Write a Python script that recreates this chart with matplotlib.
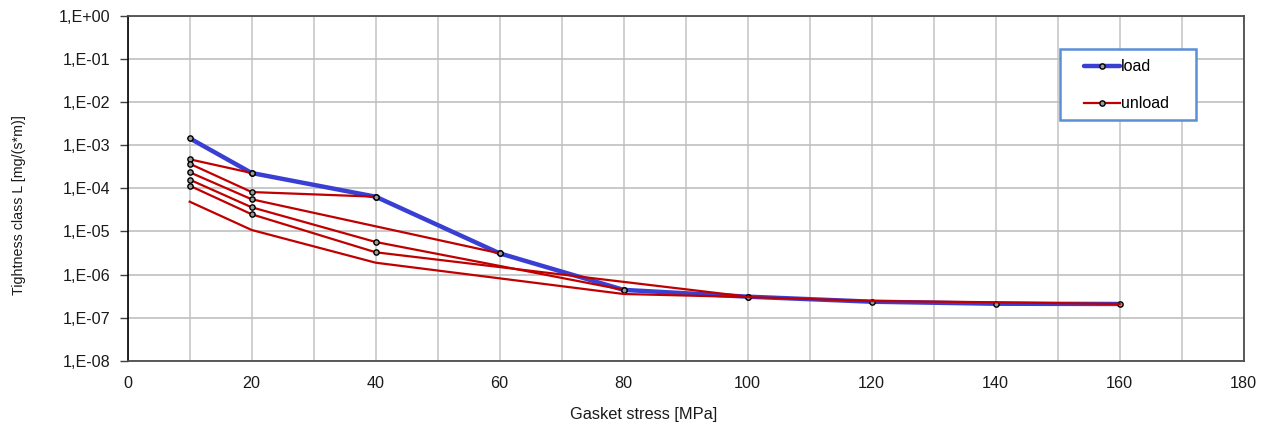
import numpy as np
import matplotlib
matplotlib.use("Agg")
import matplotlib.pyplot as plt
from matplotlib.ticker import FuncFormatter, FixedLocator, MultipleLocator
from matplotlib.patches import Rectangle
from matplotlib.lines import Line2D

plt.rcParams['font.family'] = ['Liberation Sans', 'DejaVu Sans']

# Load curve
load_x = [10, 20, 40, 60, 80, 100, 120, 140, 160]
load_y = [1.45e-3, 2.27e-4, 6.4e-5, 3.1e-6, 4.4e-7, 3.06e-7, 2.34e-7, 2.1e-7, 2.07e-7]

# Unload curves (each starting from a load stress level)
unload20_x = [20, 10]
unload20_y = [2.27e-4, 4.72e-4]
unload40_x = [40, 20, 10]
unload40_y = [6.4e-5, 8.2e-5, 3.73e-4]
unload60_x = [60, 20, 10]
unload60_y = [3.1e-6, 5.57e-5, 2.36e-4]
unload80_x = [80, 40, 20, 10]
unload80_y = [4.4e-7, 5.69e-6, 3.63e-5, 1.59e-4]
unload100_x = [100, 40, 20, 10]
unload100_y = [3.06e-7, 3.28e-6, 2.50e-5, 1.15e-4]
unload160_x = [160, 140, 120, 100, 80, 40, 20, 10]
unload160_y = [2.07e-7, 2.27e-7, 2.43e-7, 3.0e-7, 3.53e-7, 1.88e-6, 1.08e-5, 4.9e-5]

x_ticks = [0, 20, 40, 60, 80, 100, 120, 140, 160, 180]
y_ticks = [1e-8, 1e-7, 1e-6, 1e-5, 1e-4, 1e-3, 1e-2, 1e-1, 1e0]

BLUE = '#3a3fd4'
RED = '#c00000'
FS = 11.6

fig = plt.figure(figsize=(12.63, 4.25), dpi=100)
ax = fig.add_axes([0.1011, 0.1513, 0.9847 - 0.1011, 0.9624 - 0.1513])

mk = dict(marker='o', markersize=3.8, markerfacecolor='#9a9a9a',
          markeredgecolor='black', markeredgewidth=1.0)

unloads = [(unload20_x, unload20_y, True), (unload40_x, unload40_y, True),
           (unload60_x, unload60_y, True), (unload80_x, unload80_y, True),
           (unload100_x, unload100_y, True), (unload160_x, unload160_y, False)]

ax.plot(load_x, load_y, color=BLUE, lw=3.2, zorder=3, solid_capstyle='round', **mk)
for ux, uy, has_m in unloads:
    if has_m:
        ax.plot(ux, uy, color=RED, lw=1.6, zorder=4, **mk)
    else:
        ax.plot(ux, uy, color=RED, lw=1.6, zorder=4)

ax.set_yscale('log')
ax.set_ylim(1e-8, 1)
ax.set_xlim(0, 180)
ax.xaxis.set_major_locator(FixedLocator(x_ticks))
ax.xaxis.set_minor_locator(MultipleLocator(10))
ax.yaxis.set_major_locator(FixedLocator(y_ticks))
ax.yaxis.set_minor_locator(FixedLocator([]))
ax.yaxis.set_major_formatter(FuncFormatter(
    lambda v, p: "1,E" + format(int(round(np.log10(v))), '+03d')))

ax.grid(True, which='both', axis='x', color='#c8c8c8', lw=1.2)
ax.grid(True, which='major', axis='y', color='#c0c0c0', lw=1.2)
ax.set_axisbelow(True)

ax.tick_params(axis='x', which='both', length=0, pad=11, labelsize=FS, colors='black')
ax.tick_params(axis='y', which='major', length=5.5, width=1.0, pad=7,
               labelsize=FS, color='#404040')
for lbl in ax.get_xticklabels() + ax.get_yticklabels():
    lbl.set_color('#1a1a1a')

ax.spines['left'].set_color('black')
ax.spines['left'].set_linewidth(1.2)
for s in ['top', 'right', 'bottom']:
    ax.spines[s].set_color('#4d4d4d')
    ax.spines[s].set_linewidth(1.3)

ax.set_xlabel('Gasket stress [MPa]', fontsize=11.8, color='#1a1a1a')
ax.xaxis.set_label_coords((644 - 127.7) / 1116, (360.7 - 407) / 344.7)
ax.set_ylabel('Tightness class L [mg/(s*m)]', fontsize=10.3, color='#1a1a1a')
ax.yaxis.set_label_coords((26 - 127.7) / 1116, (360.7 - 205) / 344.7)

# Legend frame
fig.patches.append(Rectangle((1059.5 / 1263, 1 - 120.5 / 425), 136 / 1263, 71 / 425,
                             transform=fig.transFigure, fill=True, facecolor='white',
                             edgecolor='#5b8fd6', lw=1.8, zorder=5))
handles = [Line2D([], [], color=BLUE, lw=3.2, solid_capstyle='round', **mk),
           Line2D([], [], color=RED, lw=1.6, **mk)]
leg = fig.legend(handles, ['load', 'unload'], loc='upper left',
                 bbox_to_anchor=(1073 / 1263, 1 - 48 / 425), frameon=False,
                 fontsize=11.5, handlelength=2.25, handletextpad=0.05,
                 labelspacing=1.38, borderpad=0.2, markerscale=1.0)
leg.set_zorder(6)

fig.savefig('out.png', dpi=100)
